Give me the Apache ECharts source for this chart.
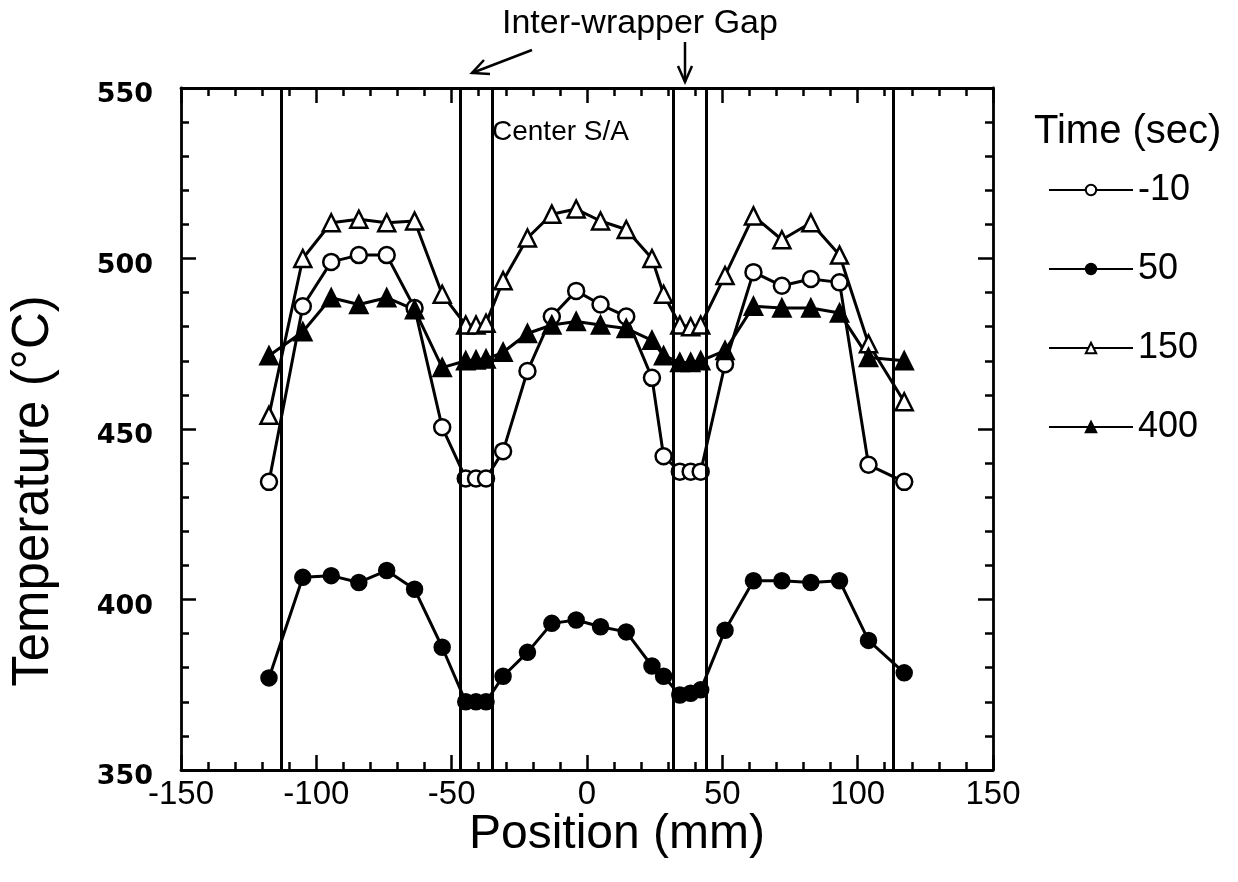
<!DOCTYPE html>
<html>
<head>
<meta charset="utf-8">
<script src="https://cdn.jsdelivr.net/npm/echarts@6/dist/echarts.min.js"></script>
<style>
  html, body { margin: 0; padding: 0; background: #fff; }
  #chart { width: 1238px; height: 882px; }
</style>
</head>
<body>
<div id="chart"></div>
<script>
// positions of the thermocouples (mm)
const positions = [-117.5, -105, -94.5, -84.3, -74, -63.7, -53.5, -44.8, -41, -37.3, -31, -22, -13, -4, 5, 14.5, 24, 28.3, 34.3, 38.3, 42, 51, 61.5, 72, 82.7, 93.3, 104, 117.2];

// temperatures (°C) per time
const tMinus10 = [434.5, 486, 499, 501, 501, 485.5, 450.5, 435.5, 435.5, 435.5, 443.5, 467, 483, 490.5, 486.5, 483, 465, 442, 437.5, 437.5, 437.5, 469, 496, 492, 494, 493, 439.5, 434.5];
const t50 = [377, 406.5, 407, 405, 408.5, 403, 386, 370, 370, 370, 377.5, 384.5, 393, 394, 392, 390.5, 380.5, 377.5, 372, 372.5, 373.5, 391, 405.5, 405.5, 405, 405.5, 388, 378.5];
const t150 = [454, 500, 510.5, 511.5, 510.5, 511, 489.5, 480.5, 480.5, 481, 493.5, 506, 513, 514.5, 511, 508.5, 500, 489.5, 480.5, 480, 480.5, 495, 512.5, 505.5, 510.5, 501, 475, 458];
const t400 = [471.5, 478.5, 488.5, 486.5, 488.5, 485, 468, 470, 470.2, 470.5, 472.5, 478, 480.5, 481.5, 480.5, 479.5, 476, 471.5, 469.5, 469.5, 470, 473, 486, 485.5, 485.5, 484, 471, 470];

// subassembly wrapper walls (mm)
const wallPositions = [-113, -47, -35, 32, 44, 113];

const seriesNames = ["-10", "50", "150", "400"];
const xTicks = { min: -150, max: 150, interval: 50 };
const yTicks = { min: 350, max: 550, interval: 50 };

const BLACK = "#000";
const SANS = "'Liberation Sans', Arial, sans-serif";
const zip = (ys) => positions.map((x, i) => [x, ys[i]]);

function xAxis(position, showLabel) {
  return {
    type: "value", position, ...xTicks,
    axisLine: { show: true, onZero: false, lineStyle: { color: BLACK, width: 2.8 } },
    axisTick: { show: true, inside: true, length: 15, lineStyle: { color: BLACK, width: 2.5 } },
    minorTick: { show: true, splitNumber: 5, length: 8, lineStyle: { color: BLACK, width: 2.5 } },
    splitLine: { show: false },
    axisLabel: { show: showLabel, color: BLACK, fontSize: 33, fontFamily: SANS, margin: 8 },
    name: showLabel ? "Position (mm)" : "",
    nameLocation: "middle", nameGap: 41, nameMoveOverlap: false,
    nameTextStyle: { color: BLACK, fontSize: 48, fontFamily: SANS, padding: [0, 0, 0, 60] },
  };
}

function yAxis(position, showLabel) {
  return {
    type: "value", position, ...yTicks,
    axisLine: { show: true, onZero: false, lineStyle: { color: BLACK, width: 2.8 } },
    axisTick: { show: true, inside: true, length: 15, lineStyle: { color: BLACK, width: 2.5 } },
    minorTick: { show: true, splitNumber: 5, length: 8, lineStyle: { color: BLACK, width: 2.5 } },
    splitLine: { show: false },
    axisLabel: {
      show: showLabel, margin: 28,
      formatter: (value) => `{v|${value}}`,
      rich: { v: { color: BLACK, fontSize: 27, fontWeight: "bold", fontFamily: "'DejaVu Sans', sans-serif", padding: [14, 0, 0, 0] } },
    },
    name: showLabel ? "Temperature (\u00b0C)" : "",
    nameLocation: "middle", nameGap: 122, nameMoveOverlap: false,
    nameTextStyle: { color: BLACK, fontSize: 51, fontFamily: SANS, padding: [0, 124, 0, 0] },
  };
}

function lineSeries(name, values, symbol, filled, size) {
  return {
    name, type: "line", data: zip(values), xAxisIndex: 0, yAxisIndex: 0,
    symbol, symbolSize: size, showAllSymbol: true,
    lineStyle: { color: BLACK, width: 3 },
    itemStyle: { color: filled ? BLACK : "#fff", borderColor: BLACK, borderWidth: 2.5 },
    emphasis: { disabled: true },
    animation: false,
  };
}

const chart = echarts.init(document.getElementById("chart"), null, { renderer: "canvas" });

const series = [
  lineSeries(seriesNames[0], tMinus10, "circle", false, 16),
  lineSeries(seriesNames[1], t50, "circle", true, 15),
  lineSeries(seriesNames[2], t150, "triangle", false, 17),
  lineSeries(seriesNames[3], t400, "triangle", true, 17),
];
series[0].markLine = {
  silent: true, symbol: "none", animation: false,
  label: { show: false },
  lineStyle: { color: BLACK, width: 3, type: "solid" },
  data: wallPositions.map((x) => ({ xAxis: x })),
};

chart.setOption({
  animation: false,
  backgroundColor: "#fff",
  grid: { left: 180, right: 245, top: 88, bottom: 112, containLabel: false },
  xAxis: [xAxis("bottom", true), xAxis("top", false)],
  yAxis: [yAxis("left", true), yAxis("right", false)],
  legend: {
    orient: "vertical", left: 1043, top: 167,
    itemWidth: 84, itemHeight: 13, itemGap: 43,
    data: seriesNames,
    textStyle: { color: BLACK, fontSize: 36, fontFamily: SANS, lineHeight: 36 },
    selectedMode: false,
  },
  graphic: [
    { type: "text", left: 1034, top: 112, style: { text: "Time (sec)", fill: BLACK, fontSize: 40, fontFamily: SANS } },
    { type: "text", left: 492, top: 118, style: { text: "Center S/A", fill: BLACK, fontSize: 28, fontFamily: SANS } },
    { type: "text", left: 502, top: 7, style: { text: "Inter-wrapper Gap", fill: BLACK, fontSize: 34, fontFamily: SANS } },
    { type: "line", shape: { x1: 532, y1: 50, x2: 472, y2: 73 }, style: { stroke: BLACK, lineWidth: 2.5 } },
    { type: "polyline", shape: { points: [[484, 60], [472, 73], [490, 74]] }, style: { stroke: BLACK, lineWidth: 2.5, fill: null } },
    { type: "line", shape: { x1: 685, y1: 42, x2: 685, y2: 82 }, style: { stroke: BLACK, lineWidth: 2.5 } },
    { type: "polyline", shape: { points: [[678, 66], [685, 82], [692, 66]] }, style: { stroke: BLACK, lineWidth: 2.5, fill: null } },
  ],
  series,
});
</script>
</body>
</html>
